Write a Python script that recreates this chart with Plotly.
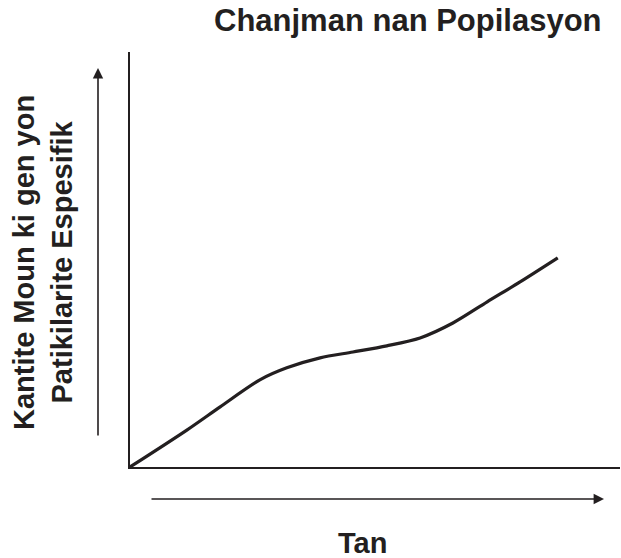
import plotly.graph_objects as go

# Data (arbitrary units)
time = [0, 1.16, 1.84, 2.65, 3.2, 3.88, 4.55, 5.24, 5.92, 6.59, 7.29, 7.96, 8.73]
population = [0, 0.89, 1.45, 2.10, 2.39, 2.63, 2.77, 2.92, 3.11, 3.47, 3.98, 4.46, 5.04]

title_text = "Chanjman nan Popilasyon"
x_label = "Tan"
y_label = "Kantite Moun ki gen yon<br>Patikilarite Espesifik"

INK = "#231f20"
FONT = "Liberation Sans, Arial, Helvetica, sans-serif"

W, H = 621, 558
L, R, T, B = 130, 1, 52, 91
PW, PH = W - L - R, H - T - B


def px(x):
    return (x - L) / PW


def py(y):
    return (H - B - y) / PH


fig = go.Figure()
fig.add_trace(go.Scatter(
    x=time, y=population, mode="lines",
    line=dict(color=INK, width=3.2, shape="spline", smoothing=0.8),
    cliponaxis=False, hoverinfo="skip", showlegend=False,
))

annotations = [
    dict(text="<b>" + title_text + "</b>", x=px(408), y=py(21), xref="paper", yref="paper",
         xanchor="center", yanchor="middle", showarrow=False,
         font=dict(family=FONT, size=31, color=INK)),
    dict(text="<b>" + x_label + "</b>", x=px(362), y=py(543), xref="paper", yref="paper",
         xanchor="center", yanchor="middle", showarrow=False,
         font=dict(family=FONT, size=29, color=INK)),
    dict(text="<b>" + y_label + "</b>", x=px(43), y=py(263), xref="paper", yref="paper",
         xanchor="center", yanchor="middle", showarrow=False, textangle=-90,
         font=dict(family=FONT, size=29, color=INK)),
    # vertical arrow
    dict(text="", x=px(98), y=py(68), xref="paper", yref="paper",
         ax=0, ay=369, axref="pixel", ayref="pixel", showarrow=True,
         arrowhead=2, arrowsize=1.3, arrowwidth=1.6, arrowcolor=INK, standoff=0),
    # horizontal arrow
    dict(text="", x=px(604), y=py(499), xref="paper", yref="paper",
         ax=-454, ay=0, axref="pixel", ayref="pixel", showarrow=True,
         arrowhead=2, arrowsize=1.3, arrowwidth=1.6, arrowcolor=INK, standoff=0),
]

fig.update_layout(
    width=W, height=H,
    margin=dict(l=L, r=R, t=T, b=B, pad=0),
    paper_bgcolor="white", plot_bgcolor="white",
    xaxis=dict(range=[0, 10], showgrid=False, zeroline=False, showticklabels=False,
               ticks="", showline=True, linecolor=INK, linewidth=2, fixedrange=True),
    yaxis=dict(range=[0, 10], showgrid=False, zeroline=False, showticklabels=False,
               ticks="", showline=True, linecolor=INK, linewidth=1.5, fixedrange=True),
    annotations=annotations,
    showlegend=False,
)

fig.write_html(
    "out.html",
    config={"displayModeBar": False},
    post_script="document.body.style.margin='0px';document.body.style.overflow='hidden';",
)
